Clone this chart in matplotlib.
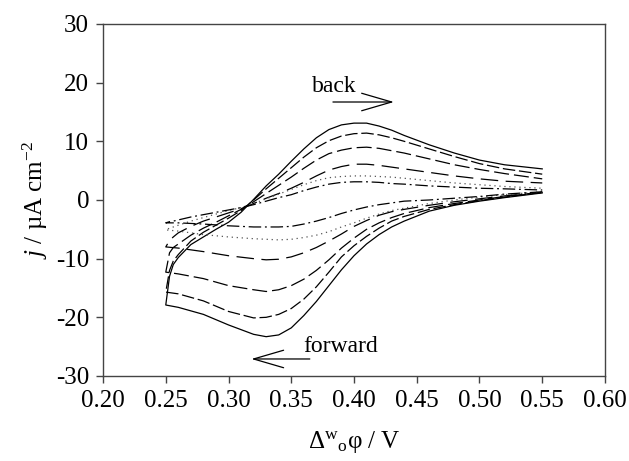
import numpy as np
import matplotlib
matplotlib.use('Agg')
import matplotlib.pyplot as plt

plt.rcParams['font.family'] = ['Liberation Serif', 'DejaVu Serif']
plt.rcParams['mathtext.fontset'] = 'custom'
plt.rcParams['mathtext.rm'] = 'Liberation Serif'
plt.rcParams['mathtext.it'] = 'Liberation Serif:italic'
plt.rcParams['axes.unicode_minus'] = False

# potential grids (V): forward scan goes 0.55 -> 0.25, back scan 0.25 -> 0.55
E_fwd = [0.55, 0.52, 0.50, 0.48, 0.46, 0.44, 0.43, 0.42, 0.41, 0.40, 0.39, 0.38,
         0.37, 0.36, 0.35, 0.34, 0.33, 0.32, 0.30, 0.28, 0.26, 0.25]
E_back = [0.25, 0.253, 0.256, 0.26, 0.27, 0.28, 0.29, 0.30, 0.31, 0.32, 0.33, 0.34,
          0.35, 0.36, 0.37, 0.38, 0.39, 0.40, 0.41, 0.42, 0.43, 0.44, 0.46, 0.48,
          0.50, 0.52, 0.55]

# current density (uA cm-2), largest curve first
j1_fwd = [1.2, 0.4, -0.2, -0.9, -1.9, -3.6, -4.6, -5.9, -7.5, -9.5, -11.9, -14.6,
          -17.3, -19.7, -21.8, -23.0, -23.3, -22.9, -21.3, -19.5, -18.3, -17.9]
j1_back = [-17.9, -13.0, -11.0, -9.8, -7.6, -6.3, -5.0, -3.8, -2.1, 0.1, 2.4, 4.4,
           6.6, 8.7, 10.6, 12.0, 12.8, 13.1, 13.1, 12.6, 11.9, 11.0, 9.4, 8.0,
           6.8, 6.0, 5.3]

j2_fwd = [1.3, 0.5, -0.1, -0.8, -1.6, -2.8, -3.6, -4.8, -6.2, -7.8, -9.7, -12.3,
          -14.8, -16.9, -18.5, -19.5, -20.0, -20.1, -19.0, -17.2, -16.0, -15.7]
j2_back = [-15.7, -12.0, -10.4, -9.3, -7.0, -5.5, -4.3, -3.1, -1.8, 0.0, 1.9, 3.7,
           5.5, 7.3, 8.9, 10.1, 10.9, 11.3, 11.4, 11.1, 10.6, 10.0, 8.7, 7.4,
           6.2, 5.3, 4.4]

j3_fwd = [1.3, 0.6, 0.0, -0.6, -1.3, -2.3, -3.0, -3.9, -5.0, -6.5, -8.2, -10.2,
          -12.0, -13.5, -14.6, -15.3, -15.6, -15.3, -14.6, -13.4, -12.6, -12.3]
j3_back = [-12.3, -9.0, -8.1, -7.5, -6.0, -4.8, -3.8, -2.7, -1.6, -0.3, 1.1, 2.5,
           3.9, 5.4, 6.8, 7.9, 8.5, 8.9, 9.0, 8.8, 8.4, 8.0, 7.0, 6.0,
           5.2, 4.5, 3.6]

j4_fwd = [1.3, 0.7, 0.2, -0.3, -0.9, -1.6, -2.0, -2.6, -3.5, -4.5, -5.8, -7.0,
          -8.1, -9.0, -9.7, -10.1, -10.2, -10.0, -9.5, -8.8, -8.2, -8.0]
j4_back = [-8.0, -6.9, -6.3, -5.6, -4.5, -3.6, -2.9, -2.2, -1.5, -0.6, 0.3, 1.1,
           2.0, 3.0, 4.1, 5.1, 5.7, 6.1, 6.1, 5.9, 5.6, 5.3, 4.7, 4.1,
           3.6, 3.2, 2.9]

j5_fwd = [1.4, 0.9, 0.5, 0.0, -0.6, -1.4, -1.8, -2.4, -3.1, -3.9, -4.6, -5.4,
          -6.0, -6.4, -6.7, -6.8, -6.7, -6.6, -6.3, -5.9, -5.3, -5.1]
j5_back = [-5.1, -4.8, -4.6, -4.3, -3.6, -3.0, -2.4, -1.8, -1.3, -0.6, 0.2, 1.0,
           1.8, 2.6, 3.3, 3.8, 4.0, 4.1, 4.1, 4.0, 3.9, 3.7, 3.3, 2.9,
           2.6, 2.3, 2.0]

j6_fwd = [1.4, 1.0, 0.6, 0.3, 0.0, -0.2, -0.5, -0.8, -1.2, -1.7, -2.3, -3.0,
          -3.6, -4.1, -4.5, -4.6, -4.6, -4.6, -4.4, -4.1, -3.9, -3.9]
j6_back = [-3.9, -3.7, -3.6, -3.4, -2.9, -2.5, -2.1, -1.7, -1.3, -0.8, -0.2, 0.4,
           0.9, 1.6, 2.2, 2.7, 3.0, 3.1, 3.1, 3.0, 2.8, 2.7, 2.4, 2.2,
           2.0, 1.9, 1.7]

curves = [(j1_fwd, j1_back, '-', 'black'),
          (j2_fwd, j2_back, (0, (10, 3)), 'black'),
          (j3_fwd, j3_back, (0, (12, 4)), 'black'),
          (j4_fwd, j4_back, (0, (14, 6)), 'black'),
          (j5_fwd, j5_back, (0, (1, 3)), '#555555'),
          (j6_fwd, j6_back, (0, (10, 3, 1.5, 3)), 'black')]

fig = plt.figure(figsize=(6.29, 4.61), dpi=100)
ax = fig.add_axes([0.1638, 0.1844, 0.798, 0.7636])

E_all = np.array(E_fwd + E_back)
for jf, jb, ls, col in curves:
    ax.plot(E_all, np.array(jf + jb), color=col, linestyle=ls, linewidth=0.9)

ax.set_xlim(0.20, 0.60)
ax.set_ylim(-30, 30)
ax.set_xticks(np.arange(0.20, 0.601, 0.05))
ax.set_xticklabels(['%.2f' % v for v in np.arange(0.20, 0.601, 0.05)])
ax.set_yticks(np.arange(-30, 31, 10))

for s in ax.spines.values():
    s.set_color('#444444')
    s.set_linewidth(1.0)
ax.tick_params(direction='out', length=5, width=1, color='#444444',
               labelsize=18, top=False, right=False, pad=5)

ax.set_xlabel(r'$\Delta^{\rm w}$$_{\rm o}$φ / V', fontsize=18, labelpad=12)
ax.set_ylabel(r'$j$ / µA cm$^{-2}$', fontsize=18, labelpad=4)

# scan direction arrows
ax.annotate('', xy=(0.434, 16.7), xytext=(0.381, 16.7),
            arrowprops=dict(arrowstyle='->,head_length=1.2,head_width=0.35',
                            lw=0.9, color='black', mutation_scale=18))
ax.text(0.384, 19.3, 'back', fontsize=17, ha='center', va='center')
ax.annotate('', xy=(0.316, -27.1), xytext=(0.367, -27.1),
            arrowprops=dict(arrowstyle='->,head_length=1.2,head_width=0.35',
                            lw=0.9, color='black', mutation_scale=18))
ax.text(0.389, -25.0, 'forward', fontsize=17, ha='center', va='center')

fig.savefig('out.png', dpi=100)
